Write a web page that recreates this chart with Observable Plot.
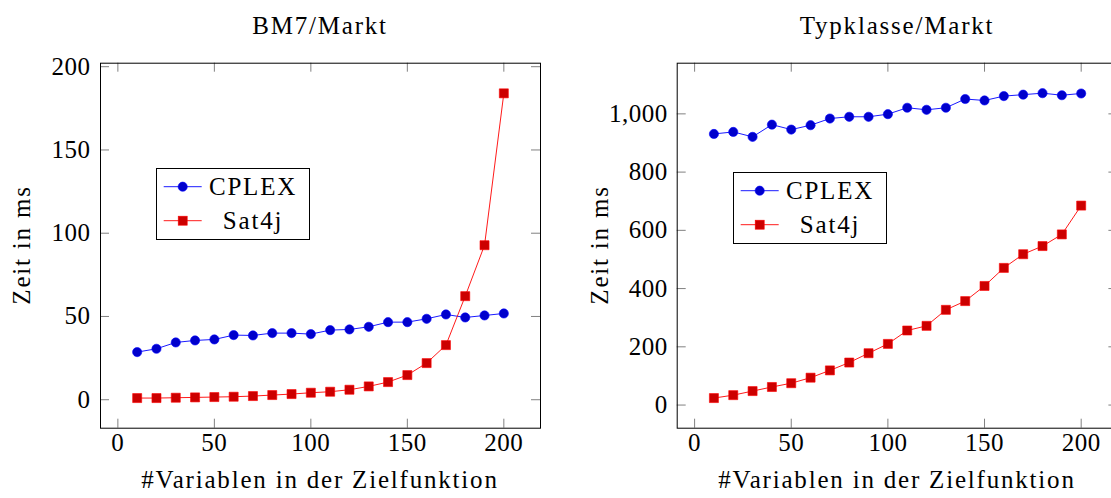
<!DOCTYPE html>
<html><head><meta charset="utf-8">
<script src="https://cdn.jsdelivr.net/npm/d3@7"></script>
<script src="https://cdn.jsdelivr.net/npm/@observablehq/plot@0.6"></script>
<style>
body{margin:0;background:#fff;overflow:hidden}
#root{position:relative;width:1111px;height:498px;overflow:hidden;font-family:"Liberation Serif",serif;color:#000;background:#fff}
.abs{position:absolute;white-space:nowrap;line-height:1;letter-spacing:1.8px}
.c{transform:translate(-50%,-50%);font-size:25px}
.r{transform:translate(-50%,-50%) rotate(-90deg);font-size:25px}
svg{position:absolute;top:0}
svg text{letter-spacing:0.5px}
svg.leg text{letter-spacing:1.8px}
</style></head><body><div id="root"></div>
<script>
// ---- data ----
const xValues = [10,20,30,40,50,60,70,80,90,100,110,120,130,140,150,160,170,180,190,200];
const bm7Cplex = [28.6,30.6,34.4,35.6,36.2,38.8,38.6,40.0,40.0,39.4,41.8,42.2,43.8,46.6,46.6,48.6,51.2,49.4,50.6,51.8];
const bm7Sat4j = [1.0,1.0,1.2,1.4,1.6,1.8,2.2,2.8,3.4,4.2,4.8,6.0,8.0,10.6,14.8,22.0,32.8,62.2,92.8,184.0];
const typCplex = [931,938,921,963,946,961,984,990,990,999,1021,1014,1021,1051,1046,1061,1066,1071,1064,1070];
const typSat4j = [24,34,48,62,75,94,119,146,178,210,256,272,327,357,409,471,518,546,586,685];
const xTicks = [0,50,100,150,200];
const bm7YTicks = [0,50,100,150,200];
const typYTicks = [0,200,400,600,800,1000];
const seriesNames = ["CPLEX","Sat4j"];
const titles = ["BM7/Markt","Typklasse/Markt"];
const xLabel = "#Variablen in der Zielfunktion";
const yLabel = "Zeit in ms";

const root = document.getElementById("root");
const FONT = '"Liberation Serif", serif';
const BLUE = "#0000ff", BLUE_F = "#0000cc", RED = "#ff0000", RED_F = "#cc0000";
const TICK = "#808080";

function rows(vals, name){ return xValues.map((x,i)=>({x, y: vals[i], series: name})); }

function panel(o){
  const height = 498, marginTop = 62.7, marginBottom = 70.3;
  const fw = o.width - o.marginLeft - o.marginRight;
  const fh = height - marginTop - marginBottom;
  const cp = rows(o.cplex, seriesNames[0]);
  const sa = rows(o.sat, seriesNames[1]);
  const svg = Plot.plot({
    width: o.width, height,
    marginLeft: o.marginLeft, marginRight: o.marginRight, marginTop, marginBottom,
    x: {type: "linear", domain: [-9, 219]},
    y: {type: "linear", domain: o.yDomain},
    style: {fontFamily: FONT, fontSize: "25px", background: "transparent", overflow: "visible", color: "#000"},
    marks: [
      Plot.tickX(xTicks, {x: d => d, insetTop: fh - 9, stroke: TICK, strokeWidth: 1}),
      Plot.tickX(xTicks, {x: d => d, insetBottom: fh - 9, stroke: TICK, strokeWidth: 1}),
      Plot.tickY(o.yTicks, {y: d => d, insetRight: fw - 9, stroke: TICK, strokeWidth: 1}),
      Plot.tickY(o.yTicks, {y: d => d, insetLeft: fw - 9, stroke: TICK, strokeWidth: 1}),
      Plot.axisX({ticks: xTicks, tickSize: 0, tickPadding: 5, label: null, tickFormat: d => String(d), fontSize: 25}),
      Plot.axisY({ticks: o.yTicks, tickSize: 0, tickPadding: o.yPad, label: null, tickFormat: o.yFormat, fontSize: 25}),
      Plot.line(cp, {x: "x", y: "y", stroke: BLUE, strokeWidth: 0.9}),
      Plot.dot(cp, {x: "x", y: "y", r: 4.6, fill: BLUE_F, stroke: BLUE, strokeWidth: 0.6}),
      Plot.line(sa, {x: "x", y: "y", stroke: RED, strokeWidth: 0.9}),
      Plot.dot(sa, {x: "x", y: "y", r: 5.1, symbol: "square", fill: RED_F, stroke: RED, strokeWidth: 0.6}),
      Plot.frame({stroke: "#000", strokeWidth: 1})
    ]
  });
  svg.style.left = o.left + "px";
  svg.style.maxWidth = "none";
  root.appendChild(svg);
}

function label(text, cls, x, y){
  const d = document.createElement("div");
  d.className = "abs " + cls;
  d.style.left = x + "px"; d.style.top = y + "px";
  d.textContent = text;
  root.appendChild(d);
}

function legend(left, top){
  const w = 154, h = 72;
  const s = d3.select(root).append("svg").attr("class", "leg")
    .attr("width", w).attr("height", h)
    .style("left", left + "px").style("top", top + "px")
    .style("font-family", FONT).style("font-size", "25px");
  s.append("rect").attr("x", 0.5).attr("y", 0.5).attr("width", w - 1).attr("height", h - 1)
    .attr("fill", "#fff").attr("stroke", "#000");
  const specs = [
    {name: seriesNames[0], stroke: BLUE, fill: BLUE_F, shape: "circle", cy: 18.7},
    {name: seriesNames[1], stroke: RED, fill: RED_F, shape: "square", cy: 52.7}
  ];
  for (const sp of specs){
    s.append("line").attr("x1", 7.7).attr("x2", 45.7).attr("y1", sp.cy).attr("y2", sp.cy)
      .attr("stroke", sp.stroke).attr("stroke-width", 0.9);
    if (sp.shape === "circle")
      s.append("circle").attr("cx", 26.7).attr("cy", sp.cy).attr("r", 4.6)
        .attr("fill", sp.fill).attr("stroke", sp.stroke).attr("stroke-width", 0.6);
    else
      s.append("rect").attr("x", 26.7 - 4.5).attr("y", sp.cy - 4.5).attr("width", 9).attr("height", 9)
        .attr("fill", sp.fill).attr("stroke", sp.stroke).attr("stroke-width", 0.6);
    s.append("text").attr("x", 97).attr("y", sp.cy).attr("text-anchor", "middle")
      .attr("dominant-baseline", "central").text(sp.name);
  }
}

panel({left: 0, width: 555, marginLeft: 100, marginRight: 15, yDomain: [-17.1, 202.1],
  yTicks: bm7YTicks, yFormat: d => String(d), yPad: 10, cplex: bm7Cplex, sat: bm7Sat4j});
panel({left: 580, width: 540, marginLeft: 96.7, marginRight: 2.6, yDomain: [-79.5, 1174],
  yTicks: typYTicks, yFormat: d => d.toLocaleString("en-US"), yPad: 9.5, cplex: typCplex, sat: typSat4j});

label(titles[0], "c", 320, 25);
label(titles[1], "c", 897, 25);
label(xLabel, "c", 320, 479);
label(xLabel, "c", 897, 479);
label(yLabel, "r", 21, 245);
label(yLabel, "r", 599, 245);
legend(156, 168);
legend(733.3, 171.7);
</script></body></html>
